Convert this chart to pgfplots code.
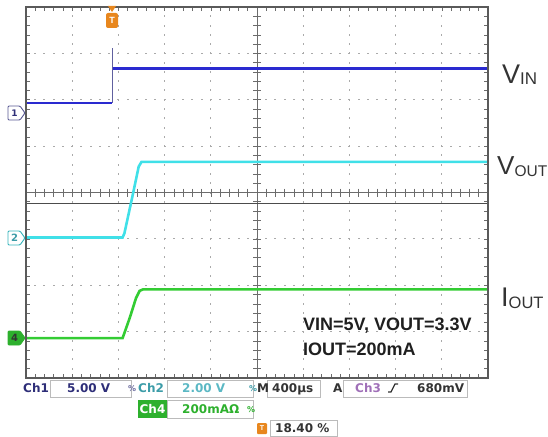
\documentclass[border=0pt]{standalone}
\usepackage{pgfplots}
\pgfplotsset{compat=1.18}
\usepackage{fontspec}
\setmainfont{Liberation Sans}
\newfontfamily\dv{DejaVu Sans}
\definecolor{blueT}{HTML}{2A2AD0}
\definecolor{cyanT}{HTML}{40E0E8}
\definecolor{greenT}{HTML}{33CC33}
\definecolor{gridgray}{HTML}{AAAAAA}
\definecolor{borderC}{HTML}{5A5A5A}
\definecolor{orangeT}{HTML}{E8871E}
\definecolor{ch1txt}{HTML}{2E2E78}
\definecolor{ch2txt}{HTML}{3C9CA8}
\definecolor{ch2val}{HTML}{5BB8C4}
\definecolor{ch3txt}{HTML}{A070B8}
\definecolor{ch4green}{HTML}{2DB02D}
\definecolor{darktxt}{HTML}{333333}
\definecolor{boxborder}{HTML}{BBBBBB}
\begin{document}
\begin{tikzpicture}[x=1pt,y=1pt]
\path[use as bounding box] (0,0) rectangle (548,-436);
% grid dots
\foreach \i in {1,2,3,4,6,7,8,9} {
  \foreach \k in {1,...,39} {
    \fill[gridgray] ({26+46.2*\i-0.6},{-7-46.375*\k/5-1}) rectangle ++(1.2,2);
  }
}
\foreach \j in {1,2,3,5,6,7} {
  \foreach \k in {1,...,49} {
    \fill[gridgray] ({26+46.2*\k/5-1},{-7-46.375*\j-0.6}) rectangle ++(2,1.2);
  }
}
% center cross
\draw[gray!85!black, line width=0.8pt] (26,-192.5) -- (488,-192.5);
\draw[gray!85!black, line width=0.8pt] (257,-7) -- (257,-378);
\foreach \k in {1,...,49} \draw[gray!85!black, line width=0.6pt] ({26+46.2*\k/5},-188.5) -- ++(0,-8);
\foreach \k in {1,...,39} \draw[gray!85!black, line width=0.6pt] (253,{-7-46.375*\k/5}) -- ++(8,0);
\draw[gray!60!black, line width=1pt] (26,-203) -- (488,-203);
% border ticks
\foreach \k in {1,...,49} {
  \draw[gray!85!black, line width=0.6pt] ({26+46.2*\k/5},-7) -- ++(0,-4);
  \draw[gray!85!black, line width=0.6pt] ({26+46.2*\k/5},-378) -- ++(0,4);
}
\foreach \k in {1,...,39} {
  \draw[gray!85!black, line width=0.6pt] (26,{-7-46.375*\k/5}) -- ++(4,0);
  \draw[gray!85!black, line width=0.6pt] (488,{-7-46.375*\k/5}) -- ++(-4,0);
}
% traces
\begin{axis}[at={(26pt,-378pt)}, anchor=south west, scale only axis,
  width=462pt, height=371pt, xmin=0, xmax=10, ymin=0, ymax=8,
  hide axis, clip=true]
\addplot[color=blue!25!gray, line width=0.8pt] coordinates {(1.865,5.93) (1.865,7.11)};
\addplot[color=blueT, line width=2.8pt] coordinates {(0,5.93) (1.86,5.93)};
\addplot[color=blueT, line width=2.8pt] coordinates {(1.875,6.68) (10,6.68)};
\addplot[color=cyanT, line width=2.6pt] coordinates {(0,3.03) (2.09,3.03) (2.13,3.12) (2.30,3.90) (2.44,4.56) (2.50,4.66) (10,4.66)};
\addplot[color=greenT, line width=2.6pt] coordinates {(0,0.86) (2.09,0.86) (2.13,0.97) (2.25,1.31) (2.38,1.72) (2.46,1.88) (2.53,1.91) (10,1.91)};
\end{axis}
% border
\draw[borderC, line width=2pt] (26,-7) rectangle (488,-378);
% channel markers
\draw[ch1txt!80, fill=white, line width=0.9pt, rounded corners=1pt] (8,-106) -- (20,-106) -- (25,-113) -- (20,-120) -- (8,-120) -- cycle;
\node[text=ch1txt, font=\dv\bfseries\fontsize{9}{9}\selectfont, inner sep=0] at (14.5,-113) {1};
\draw[cyanT!80!black, fill=white, line width=0.9pt, rounded corners=1pt] (8,-231) -- (20,-231) -- (25,-238) -- (20,-245) -- (8,-245) -- cycle;
\node[text=ch2txt, font=\dv\bfseries\fontsize{10}{10}\selectfont, inner sep=0] at (14.5,-238) {2};
\draw[ch4green, fill=ch4green, line width=0.9pt, rounded corners=1pt] (8,-331) -- (20,-331) -- (25,-338) -- (20,-345) -- (8,-345) -- cycle;
\node[text=black!80, font=\dv\bfseries\fontsize{10}{10}\selectfont, inner sep=0] at (14.5,-338) {4};
% trigger marker
\fill[orangeT] (108,-6) -- (116,-6) -- (112,-12) -- cycle;
\fill[orangeT, rounded corners=2pt] (106,-13) rectangle (118,-28);
\node[white, font=\bfseries\fontsize{9}{9}\selectfont, inner sep=0] at (112,-20.5) {T};
% right labels
\node[anchor=base west, text=darktxt, font=\fontsize{27}{27}\selectfont, inner sep=0] at (502,-83) {V\raisebox{-1.5pt}{\fontsize{17}{17}\selectfont IN}};
\node[anchor=base west, text=darktxt, font=\fontsize{26}{26}\selectfont, inner sep=0] at (497,-174) {V\raisebox{-2pt}{\fontsize{15.5}{15.5}\selectfont OUT}};
\node[anchor=base west, text=darktxt, font=\fontsize{27}{27}\selectfont, inner sep=0] at (501,-306) {I\raisebox{-2pt}{\fontsize{16.5}{16.5}\selectfont OUT}};
% annotation
\node[anchor=base west, text=black!88, font=\bfseries\fontsize{18}{18}\selectfont, inner sep=0] at (303,-330) {VIN=5V, VOUT=3.3V};
\node[anchor=base west, text=black!88, font=\bfseries\fontsize{18}{18}\selectfont, inner sep=0] at (303,-355) {IOUT=200mA};
% status bar
\tikzset{sb/.style={anchor=base west, inner sep=0, font=\dv\bfseries\fontsize{12}{12}\selectfont}}
\draw[boxborder, line width=0.7pt] (50,-380) rectangle (131,-397);
\draw[boxborder, line width=0.7pt] (167,-380) rectangle (253,-397);
\draw[boxborder, line width=0.7pt] (267,-380) rectangle (320,-397);
\draw[boxborder, line width=0.7pt] (343,-380) rectangle (467,-397);
\node[sb, text=ch1txt] at (23,-392) {Ch1};
\node[sb, text=ch1txt] at (67,-392) {5.00 V};
\node[sb, text=ch1txt!70, font=\dv\bfseries\fontsize{8}{8}\selectfont] at (128,-391) {\%};
\node[sb, text=ch2txt] at (138,-392) {Ch2};
\node[sb, text=ch2val] at (182,-392) {2.00 V};
\node[sb, text=ch2txt, font=\dv\bfseries\fontsize{8}{8}\selectfont] at (249,-391) {\%};
\node[sb, text=darktxt] at (257,-392) {M};
\node[sb, text=darktxt] at (272,-392) {400µs};
\node[sb, text=darktxt] at (333,-392) {A};
\node[sb, text=ch3txt] at (355,-392) {Ch3};
\draw[darktxt, line width=1.2pt] (388,-392) -- (391,-392) -- (395,-384) -- (398,-384);
\node[sb, text=darktxt] at (417,-392) {680mV};
% row 2
\fill[ch4green] (138,-400) rectangle (167,-418);
\node[sb, anchor=base, text=white] at (152.5,-413) {Ch4};
\draw[boxborder, line width=0.7pt] (167,-400) rectangle (253,-418);
\node[sb, text=ch4green] at (182,-413) {200mAΩ};
\node[sb, text=ch4green, font=\dv\bfseries\fontsize{8}{8}\selectfont] at (247,-412) {\%};
% row 3
\fill[orangeT, rounded corners=1pt] (257,-423) rectangle (267,-434);
\node[white, font=\bfseries\fontsize{7}{7}\selectfont, inner sep=0] at (262,-428.5) {T};
\draw[boxborder, line width=0.7pt] (270,-420) rectangle (337,-436);
\node[sb, text=darktxt] at (275,-432) {18.40 \%};
\end{tikzpicture}
\end{document}
